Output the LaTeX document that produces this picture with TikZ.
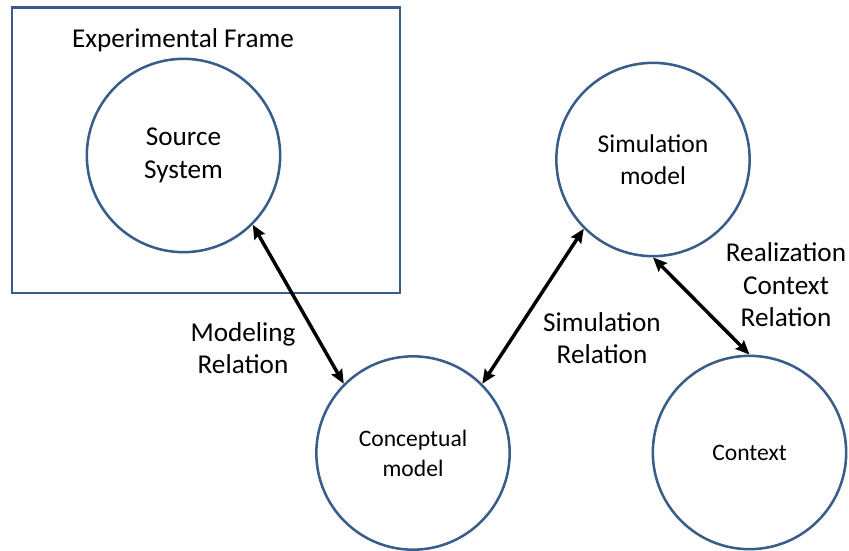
\documentclass[tikz,border=0pt]{standalone}
\usepackage{fontspec}
\setmainfont{Carlito}
\usetikzlibrary{arrows.meta}
\usetikzlibrary{positioning}

\definecolor{frameblue}{RGB}{56,93,138}

\tikzset{
  sysnode/.style={circle, draw=frameblue, line width=1.9pt, minimum size=145pt, inner sep=0pt, align=center},
  bigfont/.style={font=\fontsize{20.4}{24.4}\selectfont},
  midfont/.style={font=\fontsize{19.2}{23.6}\selectfont},
  smallfont/.style={font=\fontsize{17.7}{22.4}\selectfont},
  rellabel/.style={align=center, inner sep=0.75pt, bigfont},
  relarrow/.style={{Stealth[length=10.5pt,width=9pt,inset=1.5pt]}-{Stealth[length=10.5pt,width=9pt,inset=1.5pt]}, line width=2.6pt, black},
}

\begin{document}
\begin{tikzpicture}[x=0.75pt,y=0.75pt,yscale=-1,xscale=1]
        \useasboundingbox (0,0) rectangle (849,550);

        %Shape: Rectangle [experimental frame]
        \draw [frameblue, line width=1.9pt] (12,7.5) rectangle (400,293) ;
        % Text Node
        \node [bigfont, inner sep=0.75pt] (frame) at (183,40) {Experimental Frame};

        %Shape: Circles
        \node [sysnode, bigfont] (source) at (183.5,155.5) {Source\\System};
        \node [sysnode, midfont] (simmodel) at (653,159.5) {Simulation\\model};
        \node [sysnode, smallfont] (concept) at (413,453) {Conceptual\\model};
        \node [sysnode, smallfont] (context) at (749.5,452.5) {Context};

        %Straight Lines [relations]
        \draw [relarrow] (source.-45) -- (concept.135) ;
        \draw [relarrow] (concept.45) -- (simmodel.225) ;
        \draw [relarrow] (simmodel.south) -- (context.north) ;

        % Text Node
        \node [rellabel] (modrel) at (243,348) {Modeling\\Relation};
        % Text Node
        \node [rellabel] (simrel) at (602,338) {Simulation\\Relation};
        % Text Node
        \node [rellabel] (realrel) at (786,285) {Realization\\Context\\Relation};
\end{tikzpicture}
\end{document}
